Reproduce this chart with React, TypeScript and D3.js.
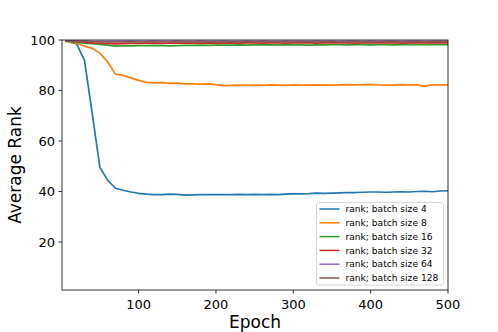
import React, { useEffect } from 'react';
import * as d3 from 'd3';

const epochs = [5, 10, 20, 30, 40, 50, 60, 70, 80, 90, 100,
  110, 120, 130, 140, 150, 160, 170, 180, 190, 200,
  210, 220, 230, 240, 250, 260, 270, 280, 290, 300,
  310, 320, 330, 340, 350, 360, 370, 380, 390, 400,
  410, 420, 430, 440, 450, 460, 470, 480, 490, 500];

const bs4 = [99.6, 99.3, 98.4, 92.0, 71.0, 49.5, 44.5, 41.3, 40.5, 39.8, 39.3,
  39.0, 38.8, 38.8, 39.0, 38.9, 38.6, 38.7, 38.8, 38.8, 38.8,
  38.8, 38.8, 38.9, 38.8, 38.9, 38.8, 38.9, 38.8, 39.0, 39.1,
  39.1, 39.2, 39.4, 39.3, 39.4, 39.5, 39.6, 39.6, 39.7, 39.8,
  39.8, 39.7, 39.8, 39.9, 39.8, 40.0, 40.1, 39.9, 40.2, 40.3];

const bs8 = [99.6, 99.2, 98.6, 97.6, 96.7, 94.7, 91.4, 86.5, 86.0, 85.0, 84.0,
  83.2, 83.0, 83.1, 82.8, 82.9, 82.6, 82.6, 82.5, 82.6, 82.3,
  81.9, 82.0, 82.1, 82.0, 82.1, 82.0, 82.2, 82.1, 82.0, 82.2,
  82.1, 82.1, 82.2, 82.1, 82.1, 82.2, 82.3, 82.2, 82.3, 82.4,
  82.2, 82.1, 82.1, 82.3, 82.2, 82.2, 81.7, 82.2, 82.2, 82.2];

const bs16 = [99.6, 99.3, 99.0, 98.8, 98.6, 98.3, 98.0, 97.6, 97.7, 97.7, 97.8,
  97.8, 97.9, 97.8, 97.7, 97.8, 97.9, 97.9, 98.0, 97.9, 98.0,
  98.0, 98.0, 98.1, 98.0, 98.1, 98.2, 98.1, 98.1, 98.2, 98.1,
  98.1, 98.0, 98.1, 98.1, 98.2, 98.2, 98.1, 98.2, 98.2, 98.1,
  98.2, 98.2, 98.1, 98.2, 98.3, 98.2, 98.2, 98.3, 98.2, 98.2];

const bs32 = [99.7, 99.5, 99.3, 99.1, 98.9, 98.8, 98.7, 98.5, 98.6, 98.7, 98.7,
  98.8, 98.8, 98.7, 98.8, 98.8, 98.9, 98.8, 98.8, 98.9, 98.8,
  98.8, 98.9, 98.8, 98.9, 98.9, 98.8, 98.9, 98.9, 98.8, 98.9,
  98.9, 98.9, 98.8, 98.9, 98.9, 98.9, 98.9, 98.8, 98.9, 98.9,
  98.9, 98.9, 98.9, 98.8, 98.9, 98.9, 98.9, 98.9, 98.9, 98.9];

const bs64 = [99.7, 99.7, 99.6, 99.6, 99.5, 99.5, 99.5, 99.5, 99.5, 99.6, 99.5,
  99.5, 99.6, 99.5, 99.5, 99.6, 99.5, 99.5, 99.6, 99.5, 99.5,
  99.6, 99.5, 99.5, 99.6, 99.5, 99.6, 99.5, 99.5, 99.6, 99.5,
  99.6, 99.5, 99.6, 99.5, 99.6, 99.5, 99.6, 99.6, 99.5, 99.6,
  99.5, 99.6, 99.6, 99.5, 99.6, 99.6, 99.5, 99.6, 99.6, 99.6];

const bs128 = [99.7, 99.6, 99.5, 99.4, 99.3, 99.3, 99.2, 99.2, 99.2, 99.3, 99.2,
  99.2, 99.3, 99.2, 99.2, 99.3, 99.2, 99.2, 99.3, 99.2, 99.3,
  99.2, 99.3, 99.2, 99.3, 99.2, 99.3, 99.3, 99.2, 99.3, 99.2,
  99.3, 99.3, 99.2, 99.3, 99.3, 99.2, 99.3, 99.3, 99.3, 99.2,
  99.3, 99.3, 99.3, 99.2, 99.3, 99.3, 99.3, 99.3, 99.3, 99.3];

const seriesNames = ['rank; batch size 4', 'rank; batch size 8', 'rank; batch size 16',
  'rank; batch size 32', 'rank; batch size 64', 'rank; batch size 128'];
const seriesValues = [bs4, bs8, bs16, bs32, bs64, bs128];
const colors = ['#1f77b4', '#ff7f0e', '#2ca02c', '#d62728', '#9467bd', '#8c564b'];
const xTicks = [100, 200, 300, 400, 500];
const yTicks = [20, 40, 60, 80, 100];

const W = 498, H = 332;
const left = 62, right = 448, top = 40, bottom = 290;
const font = 'DejaVu Sans, sans-serif';

const App = () => {
  useEffect(() => { document.body.style.margin = '0'; }, []);

  const x = d3.scaleLinear().domain([1, 500]).range([left, right]);
  const y = d3.scaleLinear().domain([1, 100]).range([bottom, top]);

  const line = d3.line<number>()
    .x((d, i) => x(epochs[i]))
    .y(d => y(d));

  const legX = 316.5, legY = 202.5, legW = 127, rowH = 13.8;

  return (
    <svg width={W} height={H} style={{ display: 'block' }} fontFamily={font}>
      <rect width={W} height={H} fill="#fff" />
      <defs>
        <clipPath id="plot">
          <rect x={left} y={top} width={right - left} height={bottom - top} />
        </clipPath>
      </defs>
      <g clipPath="url(#plot)">
        {seriesValues.map((vals, k) => (
          <path key={k} d={line(vals) || ''} fill="none" stroke={colors[k]}
            strokeWidth={1.7} strokeLinejoin="round" />
        ))}
      </g>
      <rect x={left} y={top} width={right - left} height={bottom - top}
        fill="none" stroke="#000" strokeWidth={0.8} />
      {xTicks.map(t => (
        <g key={t}>
          <line x1={x(t)} x2={x(t)} y1={bottom} y2={bottom + 3.5} stroke="#000" strokeWidth={0.8} />
          <text x={x(t)} y={309} textAnchor="middle" fontSize={13}>{t}</text>
        </g>
      ))}
      {yTicks.map(t => (
        <g key={t}>
          <line x1={left - 3.5} x2={left} y1={y(t)} y2={y(t)} stroke="#000" strokeWidth={0.8} />
          <text x={left - 7} y={y(t)} dy="0.35em" textAnchor="end" fontSize={13}>{t}</text>
        </g>
      ))}
      <text x={(left + right) / 2} y={328} textAnchor="middle" fontSize={17}>Epoch</text>
      <text transform={`translate(21, ${(top + bottom) / 2}) rotate(-90)`} textAnchor="middle" fontSize={17}>Average Rank</text>
      <rect x={legX} y={legY} width={legW} height={bottom - 5 - legY} rx={2.5}
        fill="#fff" fillOpacity={0.8} stroke="#ccc" strokeWidth={0.8} />
      {seriesNames.map((name, k) => {
        const cy = 209 + k * rowH;
        return (
          <g key={name}>
            <line x1={319.5} x2={339.5} y1={cy} y2={cy} stroke={colors[k]} strokeWidth={1.5} />
            <text x={345.5} y={cy} dy="0.35em" fontSize={9.1}>{name}</text>
          </g>
        );
      })}
    </svg>
  );
};

export default App;
